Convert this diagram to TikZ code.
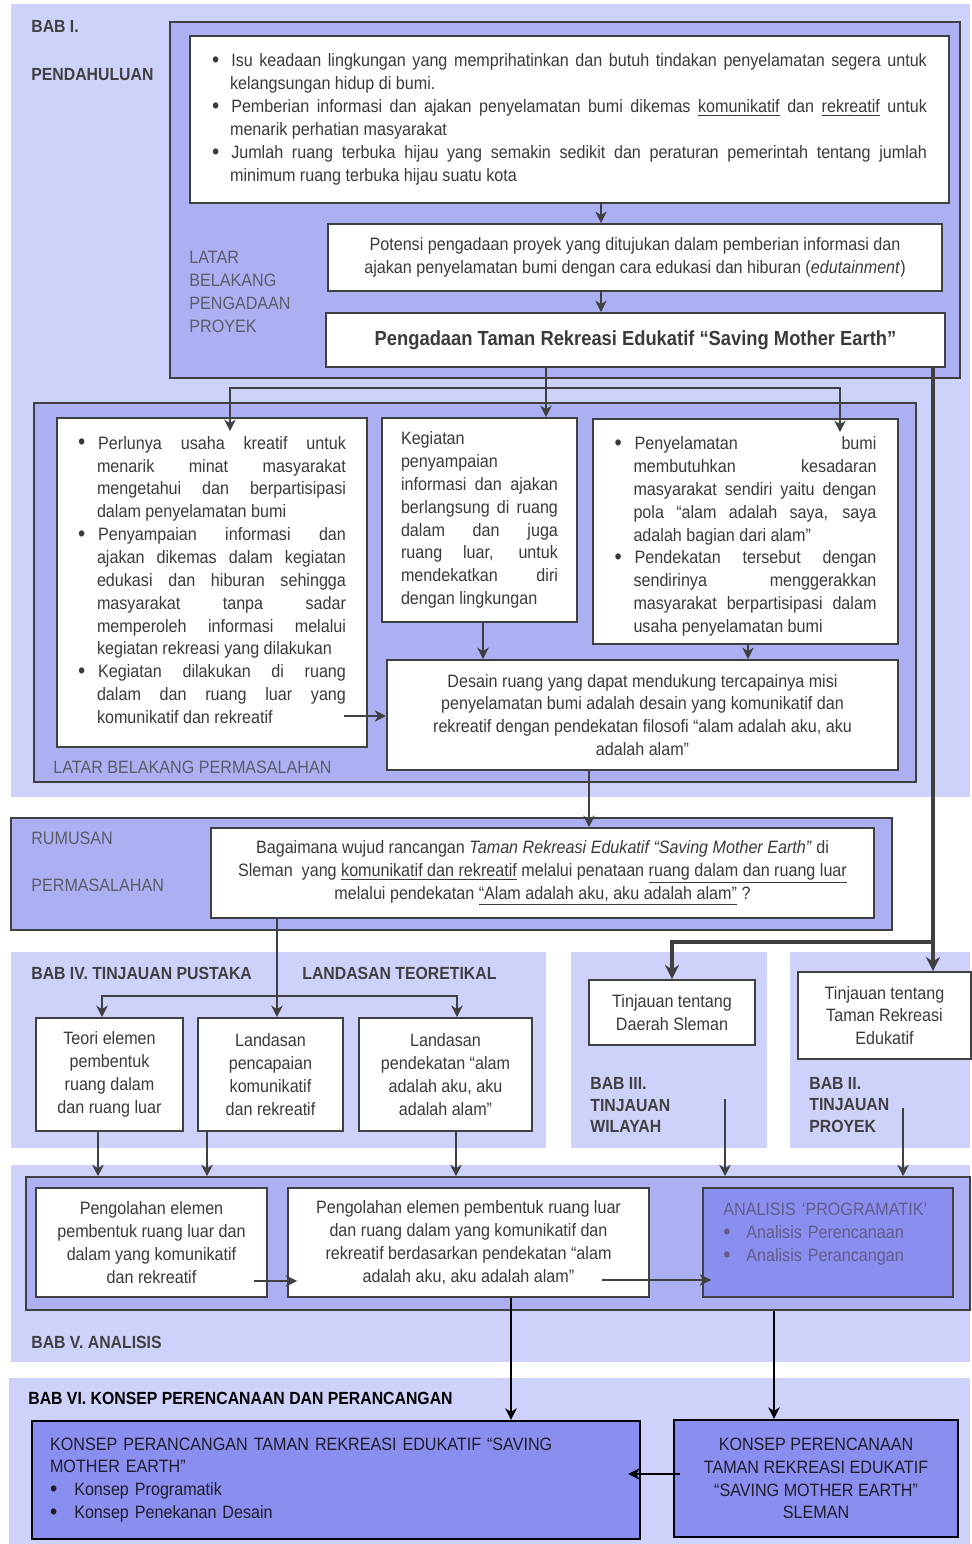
\documentclass[tikz,border=0pt]{standalone}
\usepackage{fontspec}
\setmainfont{Liberation Sans}[FakeStretch=0.9]
\usepackage{enumitem}
\usetikzlibrary{arrows.meta,fit}
\setlist[itemize]{nosep, label={\raisebox{-0.4pt}{\fontsize{13}{13}\selectfont\textbullet}},
  align=left, labelindent=0pt, labelwidth=!}
\tolerance=9999
\hbadness=10000
\definecolor{hatchlight}{RGB}{206,210,250}
\definecolor{hatchmid}{RGB}{172,176,243}
\definecolor{hatchdark}{RGB}{138,142,238}
\definecolor{edgegray}{RGB}{64,64,64}
\definecolor{inkgray}{RGB}{58,58,58}
\definecolor{fadegray}{RGB}{92,92,105}
\definecolor{fadeblue}{RGB}{95,95,140}
\definecolor{navyink}{RGB}{30,30,45}
\tikzset{
  panel/.style = {fill=hatchlight, inner sep=0pt},
  midpanel/.style = {fill=hatchmid, draw=edgegray, line width=0.9pt, inner sep=0pt},
  box/.style = {draw=edgegray, line width=1.1pt, fill=white, inner sep=0pt,
    text=inkgray},
  bluebox/.style = {draw=black, line width=1.4pt, fill=hatchdark, inner sep=0pt,
    text=navyink},
  chapter/.style = {anchor=west, inner sep=0pt, font=\bfseries, text=edgegray,
    align=left},
  faint/.style = {anchor=west, inner sep=0pt, text=fadegray, align=left},
  link/.style = {->, line width=1.2pt, draw=edgegray},
  trunk/.style = {-{Stealth[length=8pt, width=8pt, inset=2.5pt]}, line width=2.4pt,
    draw=edgegray},
  darklink/.style = {->, line width=1.3pt, draw=black}}

\begin{document}
\begin{tikzpicture}[x=0.02cm, y=-0.02cm, >={Stealth[length=6.5pt, width=6.5pt, inset=2pt]},
  font=\fontsize{10.2}{13}\selectfont]
\path[use as bounding box, fill=white] (0,0) rectangle (972,1544);

\node[panel, fit={(11,4) (970,797)}] (babi) {};
\node[midpanel, fit={(170,22) (960,378)}] (latar) {};
\node[midpanel, fit={(34,403) (916,782)}] (masalah) {};
\node[midpanel, fit={(11,818) (892,930)}] (rumus) {};
\node[panel, fit={(11,952) (546,1148)}] (babiv) {};
\node[panel, fit={(571,952) (767,1148)}] (babiii) {};
\node[panel, fit={(790,952) (970,1148)}] (babii) {};
\node[panel, fit={(11,1165) (970,1362)}] (babv) {};
\node[midpanel, fit={(26,1177) (970,1310)}] (analisis) {};
\node[panel, fit={(9,1378) (970,1544)}] (babvi) {};

\node[chapter] (bab1) at (31,26) {BAB I.};
\node[chapter] (pendahuluan) at (31,75) {PENDAHULUAN};
\node[faint] (lbpp) at (189,292) {LATAR\\BELAKANG\\PENGADAAN\\PROYEK};

\node[box, minimum width=15.18cm, minimum height=3.34cm, text width=14.3cm, align=justify] (isu) at (569.5,119.5) {%
  \vspace*{-0.2cm}
  \begin{itemize}[leftmargin=0.36cm, labelsep=0.24cm]
  \item Isu keadaan lingkungan yang memprihatinkan dan butuh tindakan penyelamatan segera untuk\linebreak kelangsungan hidup di bumi.
  \item Pemberian informasi dan ajakan penyelamatan bumi dikemas \underline{komunikatif} dan \underline{rekreatif} untuk\linebreak menarik perhatian masyarakat
  \item Jumlah ruang terbuka hijau yang semakin sedikit dan peraturan pemerintah tentang jumlah\linebreak minimum ruang terbuka hijau suatu kota
  \end{itemize}};
\node[box, minimum width=12.28cm, minimum height=1.34cm, align=center] (potensi) at (635,257.5) {Potensi pengadaan proyek yang ditujukan dalam pemberian informasi dan\\ ajakan penyelamatan bumi dengan cara edukasi dan hiburan (\textit{edutainment})};
\node[box, minimum width=12.38cm, minimum height=1.08cm, font=\fontsize{11.6}{14}\selectfont\bfseries] (pengadaan) at (635.5,340) {Pengadaan Taman Rekreasi Edukatif “Saving Mother Earth”};

\node[box, minimum width=6.2cm, minimum height=6.58cm, text width=5.36cm, align=justify] (perlunya) at (212,582.5) {%
  \vspace*{-0.3cm}
  \begin{itemize}[leftmargin=0.38cm, labelsep=0.26cm]
  \item Perlunya usaha kreatif untuk\linebreak menarik minat masyarakat\linebreak mengetahui dan berpartisipasi\linebreak dalam penyelamatan bumi
  \item Penyampaian informasi dan\linebreak ajakan dikemas dalam kegiatan\linebreak edukasi dan hiburan sehingga\linebreak masyarakat tanpa sadar\linebreak memperoleh informasi melalui\linebreak kegiatan rekreasi yang dilakukan
  \item Kegiatan dilakukan di ruang\linebreak dalam dan ruang luar yang\linebreak komunikatif dan rekreatif
  \end{itemize}};
\node[box, minimum width=3.9cm, minimum height=4.08cm, text width=3.14cm, align=justify] (kegiatan) at (479.5,520) {Kegiatan\linebreak penyampaian\linebreak informasi dan ajakan\linebreak berlangsung di ruang\linebreak dalam dan juga\linebreak ruang luar, untuk\linebreak mendekatkan diri\linebreak dengan lingkungan};
\node[box, minimum width=6.1cm, minimum height=4.5cm, text width=5.24cm, align=justify] (penyelamatan) at (745.5,531.5) {%
  \begin{itemize}[leftmargin=0.38cm, labelsep=0.26cm]
  \item Penyelamatan bumi\linebreak membutuhkan kesadaran\linebreak masyarakat sendiri yaitu dengan\linebreak pola “alam adalah saya, saya\linebreak adalah bagian dari alam”
  \item Pendekatan tersebut dengan\linebreak sendirinya menggerakkan\linebreak masyarakat berpartisipasi dalam\linebreak usaha penyelamatan bumi
  \end{itemize}};
\node[box, minimum width=10.22cm, minimum height=2.2cm, align=center] (desain) at (642.5,715) {Desain ruang yang dapat mendukung tercapainya misi\\ penyelamatan bumi adalah desain yang komunikatif dan\\ rekreatif dengan pendekatan filosofi “alam adalah aku, aku\\ adalah alam”};
\node[faint] (lbperm) at (53,767) {LATAR BELAKANG PERMASALAHAN};

\node[faint] (rumusan) at (31,838) {RUMUSAN};
\node[faint] (permasalahan) at (31,885) {PERMASALAHAN};
\node[box, minimum width=13.26cm, minimum height=1.8cm, align=center] (bagaimana) at (542.5,873) {Bagaimana wujud rancangan \textit{Taman Rekreasi Edukatif “Saving Mother Earth”} di\\ Sleman\ \ yang \underline{komunikatif dan rekreatif} melalui penataan \underline{ruang dalam dan ruang luar}\\ melalui pendekatan \underline{“Alam adalah aku, aku adalah alam”} ?};

\node[chapter] (bab4) at (31,973) {BAB IV. TINJAUAN PUSTAKA};
\node[chapter] (teoretikal) at (302,973) {LANDASAN TEORETIKAL};
\node[box, minimum width=2.94cm, minimum height=2.26cm, align=center] (teori) at (109.5,1074.5) {Teori elemen\\ pembentuk\\ ruang dalam\\ dan ruang luar};
\node[box, minimum width=2.9cm, minimum height=2.26cm, align=center] (pencapaian) at (270.5,1074.5) {Landasan\\ pencapaian\\ komunikatif\\ dan rekreatif};
\node[box, minimum width=3.46cm, minimum height=2.26cm, align=center] (pendekatan) at (445.5,1074.5) {Landasan\\ pendekatan “alam\\ adalah aku, aku\\ adalah alam”};

\node[box, minimum width=3.32cm, minimum height=1.3cm, align=center] (daerah) at (672,1012.5) {Tinjauan tentang\\ Daerah Sleman};
\node[chapter] (bab3) at (590,1105) {BAB III.\\ TINJAUAN\\ WILAYAH};
\node[box, minimum width=3.46cm, minimum height=1.74cm, align=center] (tamanrek) at (884.5,1015.5) {Tinjauan tentang\\ Taman Rekreasi\\ Edukatif};
\node[chapter] (bab2) at (809,1105) {BAB II.\\ TINJAUAN\\ PROYEK};

\node[box, minimum width=4.62cm, minimum height=2.18cm, align=center] (olah1) at (151.5,1242.5) {Pengolahan elemen\\ pembentuk ruang luar dan\\ dalam yang komunikatif\\ dan rekreatif};
\node[box, minimum width=7.22cm, minimum height=2.18cm, align=center] (olah2) at (468.5,1242.5) {Pengolahan elemen pembentuk ruang luar\\ dan ruang dalam yang komunikatif dan\\ rekreatif berdasarkan pendekatan “alam\\ adalah aku, aku adalah alam”};
\node[bluebox, draw=edgegray, line width=1.1pt, minimum width=5cm, minimum height=2.18cm] (program) at (828,1242.5) {};
\node[anchor=north west, inner sep=0pt, text=fadeblue, text width=4.5cm] (programlist) at (723,1203) {ANALISIS ‘PROGRAMATIK’
  \begin{itemize}[leftmargin=0.46cm, labelsep=0.3cm]
  \item Analisis Perencanaan
  \item Analisis Perancangan
  \end{itemize}};
\node[chapter] (bab5) at (31,1342) {BAB V. ANALISIS};

\node[chapter, text=black] (bab6) at (28,1398) {BAB VI. KONSEP PERENCANAAN DAN PERANCANGAN};
\node[bluebox, minimum width=12.16cm, minimum height=2.36cm, text width=11.44cm, align=left] (konsepa) at (336,1480) {KONSEP PERANCANGAN TAMAN REKREASI EDUKATIF “SAVING\\ MOTHER EARTH”
  \begin{itemize}[leftmargin=0.46cm, labelsep=0.34cm]
  \item Konsep Programatik
  \item Konsep Penekanan Desain
  \end{itemize}};
\node[bluebox, minimum width=5.68cm, minimum height=2.34cm, align=center] (konsepb) at (816,1478.5) {KONSEP PERENCANAAN\\ TAMAN REKREASI EDUKATIF\\ “SAVING MOTHER EARTH”\\ SLEMAN};

\draw[link] (601,0 |- isu.south) -- (601,0 |- potensi.north);
\draw[link] (601,0 |- potensi.south) -- (601,0 |- pengadaan.north);
\coordinate (pecah) at (546,388);
\draw[link] (pecah |- pengadaan.south) -- (pecah |- kegiatan.north);
\draw[link, shorten >=-0.28cm] (pecah) -| (230,0 |- perlunya.north);
\draw[link, shorten >=-0.28cm] (pecah) -| (840,0 |- penyelamatan.north);
\draw[link] (483,0 |- kegiatan.south) -- (483,0 |- desain.north);
\draw[link] (748,0 |- penyelamatan.south) -- (748,0 |- desain.north);
\draw[link, shorten <=-0.48cm] (perlunya.east |- 0,716) -- (desain.west |- 0,716);
\draw[link] (589,0 |- desain.south) -- (589,0 |- bagaimana.north);

\coordinate (cabang) at (933,942);
\draw[trunk] (cabang |- pengadaan.south) -- (cabang |- tamanrek.north);
\draw[trunk] (cabang) -| (daerah.north);

\coordinate (pecah2) at (277,996);
\draw[link] (pecah2 |- bagaimana.south) -- (pecah2 |- pencapaian.north);
\draw[link] (pecah2) -| (102,0 |- teori.north);
\draw[link] (pecah2) -| (457,0 |- pendekatan.north);

\draw[link] (98,0 |- teori.south) -- (98,0 |- analisis.north);
\draw[link] (207,0 |- pencapaian.south) -- (207,0 |- analisis.north);
\draw[link] (456,0 |- pendekatan.south) -- (456,0 |- analisis.north);
\coordinate (wilayah) at (725,1099);
\coordinate (proyek) at (903,1108);
\draw[link] (wilayah) -- (wilayah |- analisis.north);
\draw[link] (proyek) -- (proyek |- analisis.north);
\draw[link, shorten <=-0.28cm, shorten >=-0.2cm] (olah1.east |- 0,1281) -- (olah2.west |- 0,1281);
\draw[link, shorten <=-0.96cm, shorten >=-0.18cm] (olah2.east |- 0,1280) -- (program.west |- 0,1280);
\draw[darklink] (511,0 |- olah2.south) -- (511,0 |- konsepa.north);
\draw[darklink] (774,0 |- analisis.south) -- (774,0 |- konsepb.north);
\draw[darklink, shorten <=-0.14cm, shorten >=-0.26cm] (konsepb.west |- 0,1474) -- (konsepa.east |- 0,1474);
\end{tikzpicture}
\end{document}
